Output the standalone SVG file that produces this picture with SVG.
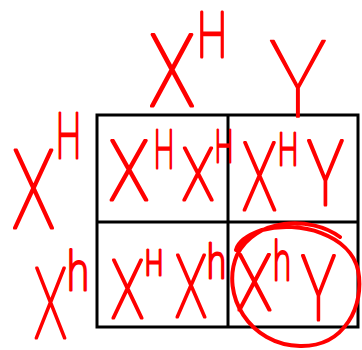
<svg xmlns="http://www.w3.org/2000/svg" width="362" height="350" viewBox="0 0 362 350">
<style>
.g{fill:none;stroke:#000;stroke-width:3}
text{font-family:Roboto,"DejaVu Sans",sans-serif;font-weight:100;fill:#f00;stroke:#f00;stroke-width:3;stroke-linejoin:round;stroke-linecap:round}
.t{stroke-width:1.5}
.c{fill:none;stroke:#f00;stroke-width:4;stroke-linecap:round}
</style>
<rect width="362" height="350" fill="#fff"/>
<g id="grid">
<rect class="g" x="97" y="115" width="261" height="212"/>
<line class="g" x1="228" y1="115" x2="228" y2="327"/>
<line class="g" x1="97" y1="222" x2="358" y2="222"/>
</g>
<g id="top-XH">
<text lengthAdjust="spacingAndGlyphs"><tspan x="149" y="106" font-size="101" textLength="46" lengthAdjust="spacingAndGlyphs">X</tspan><tspan x="197" y="57" font-size="63" textLength="30" lengthAdjust="spacingAndGlyphs">H</tspan></text>
</g>
<g id="top-Y">
<text class="t" x="269" y="117" font-size="108" textLength="58" lengthAdjust="spacingAndGlyphs">Y</text>
</g>
<g id="left-XH">
<text><tspan x="12" y="228" font-size="110" textLength="43" lengthAdjust="spacingAndGlyphs">X</tspan><tspan x="56" y="158" font-size="63" textLength="25" lengthAdjust="spacingAndGlyphs">H</tspan></text>
</g>
<g id="left-Xh">
<text><tspan x="34" y="338" font-size="99" textLength="33" lengthAdjust="spacingAndGlyphs">X</tspan><tspan x="67" y="290" font-size="54" textLength="22" lengthAdjust="spacingAndGlyphs">h</tspan></text>
</g>
<g id="cell-tl">
<text><tspan x="109" y="200" font-size="84" textLength="40" lengthAdjust="spacingAndGlyphs">X</tspan><tspan x="154" y="168" font-size="53" textLength="20" lengthAdjust="spacingAndGlyphs">H</tspan><tspan x="182" y="200" font-size="73" textLength="32" lengthAdjust="spacingAndGlyphs">X</tspan><tspan x="215" y="162" font-size="45" textLength="18" lengthAdjust="spacingAndGlyphs">H</tspan></text>
</g>
<g id="cell-tr">
<text><tspan x="242" y="210" font-size="94" textLength="35" lengthAdjust="spacingAndGlyphs">X</tspan><tspan x="278" y="165" font-size="45" textLength="20" lengthAdjust="spacingAndGlyphs">H</tspan><tspan x="307" y="205" font-size="91" textLength="37" lengthAdjust="spacingAndGlyphs">Y</tspan></text>
</g>
<g id="cell-bl">
<text><tspan x="111" y="318" font-size="82" textLength="33" lengthAdjust="spacingAndGlyphs">X</tspan><tspan x="145" y="275" font-size="35" textLength="18" lengthAdjust="spacingAndGlyphs">H</tspan><tspan x="175" y="317" font-size="87" textLength="32" lengthAdjust="spacingAndGlyphs">X</tspan><tspan x="207" y="278" font-size="46" textLength="19" lengthAdjust="spacingAndGlyphs">h</tspan></text>
</g>
<g id="cell-br">
<text><tspan x="237" y="310" font-size="77" textLength="35" lengthAdjust="spacingAndGlyphs">X</tspan><tspan x="273" y="280" font-size="54" textLength="18" lengthAdjust="spacingAndGlyphs">h</tspan><tspan x="301" y="320" font-size="91" textLength="35" lengthAdjust="spacingAndGlyphs">Y</tspan></text>
<path class="c" d="M340,237 C310,215 255,218 237,255 C220,295 250,345 300,346 C345,347 365,305 358,270 C350,235 300,220 262,230 C245,236 238,242 236,250"/>
</g>
</svg>
